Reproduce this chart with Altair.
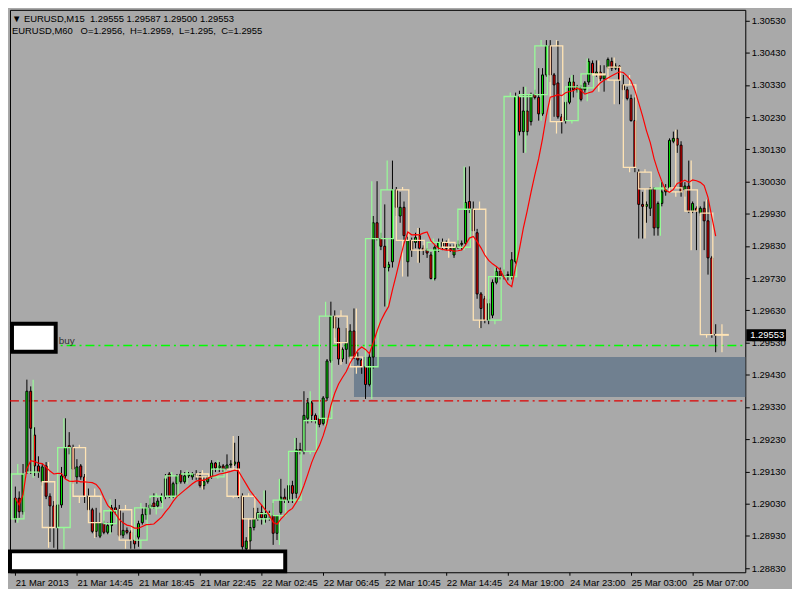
import json
import altair as alt
import pandas as pd

# ---------------- data ----------------
bar_open = [1.28983, 1.29047, 1.29005, 1.29128, 1.29379, 1.29243, 1.29147, 1.29098, 1.29147, 1.29053,
            1.29023, 1.28956, 1.29026, 1.29116, 1.29210, 1.29204, 1.29113, 1.29147, 1.29113, 1.29053,
            1.29011, 1.28944, 1.28929, 1.28968, 1.28941, 1.28962, 1.29017, 1.29011, 1.28932, 1.28947,
            1.28941, 1.28917, 1.28926, 1.28971, 1.28996, 1.29017, 1.29032, 1.29023, 1.29038, 1.29053,
            1.29122, 1.29053, 1.29092, 1.29122, 1.29098, 1.29116, 1.29113, 1.29122, 1.29116, 1.29086,
            1.29098, 1.29113, 1.29156, 1.29141, 1.29147, 1.29137, 1.29150, 1.29153, 1.29159, 1.29053,
            1.28890, 1.28914, 1.28956, 1.28983, 1.29002, 1.28986, 1.28996, 1.28993, 1.28938, 1.29002,
            1.29050, 1.29041, 1.29086, 1.29062, 1.29198, 1.29192, 1.29295, 1.29343, 1.29304, 1.29295,
            1.29279, 1.29358, 1.29473, 1.29612, 1.29575, 1.29479, 1.29509, 1.29485, 1.29566, 1.29485,
            1.29476, 1.29455, 1.29400, 1.29485, 1.29902, 1.29853, 1.29829, 1.29763, 1.29781, 1.30004,
            1.29923, 1.29950, 1.29781, 1.29847, 1.29841, 1.29862, 1.29823, 1.29817, 1.29802, 1.29729,
            1.29826, 1.29841, 1.29841, 1.29823, 1.29802, 1.29826, 1.29835, 1.29838, 1.29968, 1.29944,
            1.29871, 1.29681, 1.29666, 1.29600, 1.29615, 1.29717, 1.29751, 1.29735, 1.29738, 1.29735,
            1.29781, 1.30294, 1.30185, 1.30249, 1.30216, 1.30300, 1.30291, 1.30240, 1.30361, 1.30451,
            1.30361, 1.30336, 1.30231, 1.30219, 1.30276, 1.30339, 1.30315, 1.30321, 1.30315, 1.30339,
            1.30397, 1.30364, 1.30370, 1.30349, 1.30385, 1.30403, 1.30382, 1.30388, 1.30330, 1.30315,
            1.30288, 1.30219, 1.30059, 1.29959, 1.29953, 1.29947, 1.30007, 1.29886, 1.29962, 1.29998,
            1.30010, 1.30155, 1.30164, 1.30143, 1.30004, 1.30016, 1.29938, 1.29947, 1.29932, 1.29947,
            1.29908, 1.29793, 1.29555]
bar_high = [1.29083, 1.29068, 1.29153, 1.29415, 1.29394, 1.29267, 1.29177, 1.29153, 1.29159, 1.29062,
            1.29038, 1.29002, 1.29144, 1.29295, 1.29252, 1.29213, 1.29168, 1.29153, 1.29122, 1.29077,
            1.29017, 1.29017, 1.29002, 1.28977, 1.28971, 1.29026, 1.29044, 1.29026, 1.29002, 1.28956,
            1.28947, 1.28932, 1.28977, 1.29017, 1.29032, 1.29047, 1.29062, 1.29047, 1.29062, 1.29122,
            1.29128, 1.29098, 1.29122, 1.29134, 1.29128, 1.29128, 1.29128, 1.29134, 1.29128, 1.29113,
            1.29116, 1.29165, 1.29159, 1.29159, 1.29153, 1.29183, 1.29165, 1.29219, 1.29240, 1.29062,
            1.28926, 1.28980, 1.29017, 1.29017, 1.29026, 1.29071, 1.29008, 1.29032, 1.28971, 1.29107,
            1.29077, 1.29101, 1.29101, 1.29234, 1.29219, 1.29379, 1.29358, 1.29349, 1.29310, 1.29304,
            1.29364, 1.29479, 1.29657, 1.29630, 1.29606, 1.29515, 1.29575, 1.29587, 1.29636, 1.29500,
            1.29479, 1.29476, 1.29494, 1.29923, 1.30031, 1.29871, 1.29959, 1.29781, 1.30095, 1.30013,
            1.29998, 1.29968, 1.29859, 1.29856, 1.29871, 1.29886, 1.29832, 1.29823, 1.29811, 1.29832,
            1.29853, 1.29853, 1.29847, 1.29835, 1.29835, 1.29847, 1.29847, 1.30074, 1.30077, 1.29968,
            1.29883, 1.29687, 1.29675, 1.29666, 1.29726, 1.29763, 1.29763, 1.29757, 1.29751, 1.29811,
            1.30306, 1.30312, 1.30324, 1.30300, 1.30306, 1.30315, 1.30382, 1.30382, 1.30469, 1.30469,
            1.30367, 1.30466, 1.30240, 1.30282, 1.30352, 1.30361, 1.30330, 1.30330, 1.30342, 1.30412,
            1.30406, 1.30406, 1.30391, 1.30391, 1.30415, 1.30415, 1.30397, 1.30391, 1.30361, 1.30324,
            1.30300, 1.30291, 1.30068, 1.29998, 1.29968, 1.30013, 1.30013, 1.29968, 1.30028, 1.30022,
            1.30164, 1.30185, 1.30191, 1.30155, 1.30028, 1.30095, 1.29968, 1.29953, 1.29953, 1.29968,
            1.29974, 1.29799, 1.29587]
bar_low = [1.28971, 1.28986, 1.28996, 1.29122, 1.29122, 1.29116, 1.29110, 1.29086, 1.29044, 1.28911,
           1.28893, 1.28887, 1.29017, 1.29107, 1.29183, 1.29092, 1.29092, 1.29104, 1.29032, 1.29002,
           1.28938, 1.28926, 1.28923, 1.28935, 1.28935, 1.28941, 1.28996, 1.28926, 1.28923, 1.28935,
           1.28890, 1.28890, 1.28896, 1.28965, 1.28980, 1.28996, 1.29014, 1.29017, 1.29032, 1.29044,
           1.29047, 1.29047, 1.29053, 1.29092, 1.29092, 1.29110, 1.29104, 1.29104, 1.29080, 1.29074,
           1.29092, 1.29107, 1.29128, 1.29128, 1.29128, 1.29128, 1.29141, 1.29147, 1.29047, 1.28887,
           1.28881, 1.28887, 1.28947, 1.28977, 1.28965, 1.28971, 1.28977, 1.28902, 1.28917, 1.28996,
           1.29032, 1.29032, 1.29032, 1.29047, 1.29183, 1.29183, 1.29279, 1.29282, 1.29279, 1.29267,
           1.29273, 1.29349, 1.29467, 1.29545, 1.29461, 1.29470, 1.29464, 1.29479, 1.29479, 1.29461,
           1.29433, 1.29355, 1.29394, 1.29449, 1.29847, 1.29817, 1.29642, 1.29751, 1.29763, 1.29923,
           1.29902, 1.29847, 1.29735, 1.29796, 1.29823, 1.29778, 1.29802, 1.29793, 1.29726, 1.29723,
           1.29811, 1.29817, 1.29817, 1.29811, 1.29793, 1.29820, 1.29817, 1.29832, 1.29932, 1.29856,
           1.29666, 1.29575, 1.29590, 1.29587, 1.29606, 1.29711, 1.29726, 1.29726, 1.29723, 1.29726,
           1.29775, 1.30173, 1.30119, 1.30173, 1.30204, 1.30285, 1.30219, 1.30234, 1.30355, 1.30339,
           1.30231, 1.30225, 1.30179, 1.30210, 1.30270, 1.30291, 1.30306, 1.30279, 1.30306, 1.30330,
           1.30361, 1.30355, 1.30342, 1.30309, 1.30379, 1.30373, 1.30376, 1.30270, 1.30285, 1.30282,
           1.30216, 1.30059, 1.29853, 1.29853, 1.29902, 1.29923, 1.29862, 1.29862, 1.29953, 1.29986,
           1.29998, 1.30149, 1.30119, 1.29983, 1.29983, 1.29932, 1.29932, 1.29817, 1.29923, 1.29817,
           1.29741, 1.29545, 1.29500]
bar_close = [1.29047, 1.29005, 1.29122, 1.29379, 1.29264, 1.29147, 1.29128, 1.29144, 1.29053, 1.29023,
             1.28956, 1.29026, 1.29116, 1.29204, 1.29204, 1.29137, 1.29144, 1.29113, 1.29053, 1.29011,
             1.28944, 1.28971, 1.28971, 1.28941, 1.28962, 1.29017, 1.29008, 1.28932, 1.28947, 1.28941,
             1.28917, 1.28905, 1.28968, 1.28996, 1.29017, 1.29026, 1.29020, 1.29038, 1.29053, 1.29107,
             1.29053, 1.29092, 1.29116, 1.29098, 1.29116, 1.29122, 1.29122, 1.29119, 1.29086, 1.29098,
             1.29113, 1.29156, 1.29141, 1.29147, 1.29137, 1.29150, 1.29153, 1.29159, 1.29053, 1.28896,
             1.28914, 1.28956, 1.28983, 1.29002, 1.28986, 1.28996, 1.28999, 1.28938, 1.28993, 1.29050,
             1.29041, 1.29086, 1.29062, 1.29198, 1.29192, 1.29304, 1.29343, 1.29304, 1.29288, 1.29276,
             1.29358, 1.29473, 1.29612, 1.29575, 1.29479, 1.29509, 1.29530, 1.29566, 1.29485, 1.29476,
             1.29455, 1.29400, 1.29485, 1.29902, 1.29853, 1.29829, 1.29763, 1.29772, 1.30004, 1.29950,
             1.29950, 1.29862, 1.29847, 1.29817, 1.29856, 1.29823, 1.29817, 1.29808, 1.29729, 1.29826,
             1.29841, 1.29829, 1.29823, 1.29817, 1.29826, 1.29835, 1.29838, 1.29965, 1.29944, 1.29877,
             1.29681, 1.29636, 1.29600, 1.29651, 1.29717, 1.29751, 1.29735, 1.29738, 1.29741, 1.29787,
             1.30294, 1.30185, 1.30249, 1.30185, 1.30300, 1.30291, 1.30240, 1.30361, 1.30451, 1.30361,
             1.30330, 1.30231, 1.30216, 1.30276, 1.30339, 1.30315, 1.30324, 1.30285, 1.30336, 1.30403,
             1.30364, 1.30370, 1.30349, 1.30361, 1.30409, 1.30382, 1.30388, 1.30345, 1.30315, 1.30288,
             1.30219, 1.30074, 1.29959, 1.29953, 1.29959, 1.30007, 1.29886, 1.29962, 1.29998, 1.30010,
             1.30158, 1.30164, 1.30143, 1.29998, 1.30016, 1.29938, 1.29962, 1.29938, 1.29947, 1.29908,
             1.29793, 1.29555, 1.29553]

x_tick_bars = [0, 16, 32, 48, 64, 80, 96, 112, 128, 144, 160, 176]
x_tick_labels = ["21 Mar 2013", "21 Mar 14:45", "21 Mar 18:45", "21 Mar 22:45",
                 "22 Mar 02:45", "22 Mar 06:45", "22 Mar 10:45", "22 Mar 14:45",
                 "24 Mar 19:00", "24 Mar 23:00", "25 Mar 03:00", "25 Mar 07:00"]
y_ticks = [1.28830, 1.28930, 1.29030, 1.29130, 1.29230, 1.29330, 1.29430, 1.29530, 1.29630,
           1.29730, 1.29830, 1.29930, 1.30030, 1.30130, 1.30230, 1.30330, 1.30430, 1.30530]

buy_level = 1.29521
stop_level = 1.29349
zone_top = 1.29485
zone_bottom = 1.29361
zone_start_bar = 88
last_price = 1.29553
ma_period = 10
hour_shift_bar = 151   # one missing M15 bar around here in the hourly grouping

header1 = "\u25bc EURUSD,M15\u00a0\u00a01.29555 1.29587 1.29500 1.29553"
header2 = "EURUSD,M60\u00a0\u00a0\u00a0O=1.2956,\u00a0\u00a0H=1.2959,\u00a0\u00a0L=1.295,\u00a0\u00a0C=1.2955"

# ---------------- styling ----------------
W, H = 740, 566
BG = "#a9a9a9"
FONT = "Liberation Sans"
FS = 9.5
BULL, BEAR = "#00e000", "#ff0000"
HBULL, HBEAR = "#98fb98", "#ffe4b5"

# ---------------- tables ----------------
n = len(bar_open)
df = pd.DataFrame({"i": range(n), "o": bar_open, "h": bar_high, "l": bar_low, "c": bar_close})
df["top"] = df[["o", "c"]].max(axis=1)
df["bot"] = df[["o", "c"]].min(axis=1)
df["kind"] = ["bull" if c >= o else "bear" for o, c in zip(df.o, df.c)]
df["hour"] = [(i + 1) // 4 if i < hour_shift_bar else (i + 2) // 4 for i in df.i]

g = df.groupby("hour")
hdf = pd.DataFrame({
    "o": g.o.first(), "h": g.h.max(), "l": g.l.min(), "c": g.c.last(),
    "imin": g.i.min(), "imax": g.i.max(),
}).reset_index()
last_hour = hdf.hour.max()
hdf["x1"] = [mn if hr == last_hour else mx - 3 for hr, mn, mx in zip(hdf.hour, hdf.imin, hdf.imax)]
hdf["x2"] = [mn + 3.25 if hr == last_hour else mx + 0.25 for hr, mn, mx in zip(hdf.hour, hdf.imin, hdf.imax)]
hdf["xm"] = (hdf.x1 + hdf.x2) / 2
hdf["top"] = hdf[["o", "c"]].max(axis=1)
hdf["bot"] = hdf[["o", "c"]].min(axis=1)
hdf["kind"] = ["bull" if c >= o else "bear" for o, c in zip(hdf.o, hdf.c)]

xs = alt.Scale(domain=[-0.1, 188.4], nice=False, zero=False)
ys = alt.Scale(domain=[1.28817, 1.30563], nice=False, zero=False)

label_expr = json.dumps(x_tick_labels) + "[round(datum.value/16)]"
x_axis = alt.Axis(values=x_tick_bars, labelExpr=label_expr, title=None, orient="bottom",
                  tickSize=3, labelAlign="left", labelBaseline="top", labelPadding=2,
                  labelFlush=False, labelOverlap=False, grid=False, domain=False)
y_axis = alt.Axis(values=y_ticks, format=".5f", title=None, orient="right", tickSize=4,
                  labelPadding=2, labelFlush=False, labelOverlap=False, grid=False, domain=False,
                  labelBaseline="middle")


def X(field):
    return alt.X(field, type="quantitative", scale=xs, axis=x_axis)


def Y(field):
    return alt.Y(field, type="quantitative", scale=ys, axis=y_axis)


one = pd.DataFrame({"a": [0]})

# zone
zone = alt.Chart(pd.DataFrame({"x": [zone_start_bar], "y": [zone_top], "y2": [zone_bottom]})).mark_rect(
    color="#708090").encode(x=X("x"), x2=alt.value(W), y=Y("y"), y2="y2:Q")

lvl = pd.DataFrame({"p": [buy_level, stop_level], "kind": ["buy", "stop"]})
buy_line = alt.Chart(lvl).transform_filter("datum.kind == 'buy'").mark_rule(
    strokeWidth=1.3, strokeDash=[9, 4, 2, 4], stroke="#00ff00", strokeOpacity=1).encode(
    y=Y("p"), x=alt.value(0), x2=alt.value(W))
stop_line = alt.Chart(lvl).transform_filter("datum.kind == 'stop'").mark_rule(
    strokeWidth=1.3, strokeDash=[9, 4, 2, 4], stroke="#e00000", strokeOpacity=1).encode(
    y=Y("p"), x=alt.value(0), x2=alt.value(W))

wicks = alt.Chart(df).mark_rule(color="black", strokeWidth=1).encode(
    x=X("i"), y=Y("l"), y2="h:Q")

bodies = alt.Chart(df).mark_bar(size=2, stroke="black", strokeWidth=1).encode(
    x=X("i"), y=Y("top"), y2="bot:Q",
    fill=alt.Fill("kind:N", scale=alt.Scale(domain=["bull", "bear"], range=[BULL, BEAR]), legend=None))

hstroke = alt.Stroke("kind:N", scale=alt.Scale(domain=["bull", "bear"], range=[HBULL, HBEAR]), legend=None)
hboxes = alt.Chart(hdf).mark_rect(fillOpacity=0, strokeWidth=1.3).encode(
    x=X("x1"), x2="x2:Q", y=Y("top"), y2="bot:Q", stroke=hstroke)
hw_up = alt.Chart(hdf).mark_rule(strokeWidth=1.2).encode(
    x=X("xm"), y=Y("h"), y2="top:Q", stroke=hstroke)
hw_dn = alt.Chart(hdf).mark_rule(strokeWidth=1.2).encode(
    x=X("xm"), y=Y("bot"), y2="l:Q", stroke=hstroke)

ma = alt.Chart(df).transform_window(
    ma="mean(c)", frame=[-(ma_period - 1), 0], sort=[alt.SortField("i")]).mark_line(
    color="#ff0000", strokeWidth=1.2).encode(x=X("i"), y=Y("ma"))

buy_box = alt.Chart(one).mark_rect(fill="white", stroke="black", strokeWidth=4).encode(
    x=alt.value(2), x2=alt.value(46), y=alt.value(316), y2=alt.value(344))
buy_txt = alt.Chart(one).mark_text(align="left", baseline="middle", font=FONT, fontSize=10,
                                   color="#333333").encode(
    x=alt.value(49), y=alt.value(333), text=alt.value("buy"))
bottom_box = alt.Chart(one).mark_rect(fill="white", stroke="black", strokeWidth=4).encode(
    x=alt.value(0), x2=alt.value(277), y=alt.value(H - 21), y2=alt.value(H - 1))
head1 = alt.Chart(one).mark_text(align="left", baseline="middle", font=FONT, fontSize=FS,
                                 color="black").encode(
    x=alt.value(2), y=alt.value(9), text=alt.value(header1))
head2 = alt.Chart(one).mark_text(align="left", baseline="middle", font=FONT, fontSize=FS,
                                 color="black").encode(
    x=alt.value(2), y=alt.value(21.5), text=alt.value(header2))

lp = pd.DataFrame({"p": [last_price], "t": [f"{last_price:.5f}"]})
price_band = alt.Chart(lp).mark_rule(color="black", strokeWidth=12).encode(
    y=Y("p"), x=alt.value(W + 1), x2=alt.value(W + 41))
price_txt = alt.Chart(lp).mark_text(align="left", baseline="middle", font=FONT, fontSize=FS,
                                    color="white").encode(
    y=Y("p"), x=alt.value(W + 5), text="t:N")

chart = alt.layer(
    zone, buy_line, stop_line, wicks, bodies, hboxes, hw_up, hw_dn, ma,
    buy_box, buy_txt, bottom_box, head1, head2, price_band, price_txt
).properties(
    width=W, height=H, background=BG,
    padding={"left": 0, "top": 0, "right": 0, "bottom": 0},
).configure_view(
    stroke="black", strokeWidth=1, fill=BG
).configure_axis(
    labelFont=FONT, labelFontSize=FS, labelColor="black", tickColor="black", tickWidth=1
)

chart.save("out.html", embed_options={"renderer": "svg", "actions": False})
